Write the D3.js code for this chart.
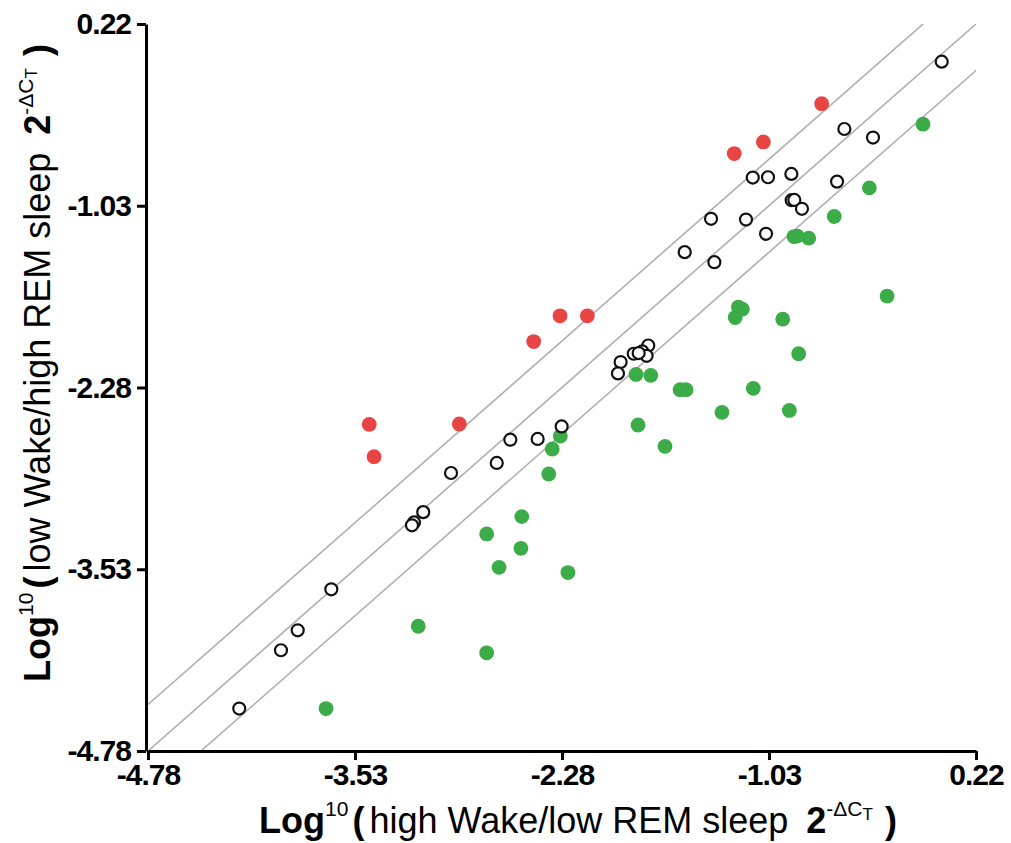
<!DOCTYPE html>
<html>
<head>
<meta charset="utf-8">
<script src="https://cdn.jsdelivr.net/npm/d3@7"></script>
<style>
    body { margin: 0; background: #fff; }
    .chart svg { display: block; font-family: Arial, "Liberation Sans", sans-serif; }
    .axis path, .axis line { stroke: #000; stroke-width: 3; }
    .axis text { font-size: 30px; font-weight: bold; fill: #000; letter-spacing: -1px; }
    .fold { stroke: #b0b0b0; stroke-width: 1.6; fill: none; }
</style>
</head>
<body>
<div class="chart"></div>
<script>
// tick values shared by both axes
var tickValues = [-4.78, -3.53, -2.28, -1.03, 0.22];
// parallel reference lines y = x + offset
var foldOffsets = [0.32, 0, -0.32];

// genes on the diagonal (open circles)
var unchangedX = [0.013, -0.575, -0.402, -1.128, -1.036, -0.895, -0.619, -0.893, -0.877, -0.831,
                  -1.380, -1.169, -1.048, -1.539, -1.360, -1.759, -1.795, -1.769, -1.847, -1.817,
                  -1.926, -1.942, -2.282, -2.427, -2.592, -2.674, -2.950, -3.118, -3.174, -3.186,
                  -3.673, -3.876, -3.977, -4.229];
var unchangedY = [-0.039, -0.502, -0.561, -0.836, -0.834, -0.811, -0.864, -0.992, -0.990, -1.051,
                  -1.120, -1.125, -1.223, -1.349, -1.418, -1.991, -2.032, -2.062, -2.048, -2.043,
                  -2.105, -2.183, -2.548, -2.634, -2.639, -2.799, -2.868, -3.137, -3.208, -3.228,
                  -3.668, -3.950, -4.087, -4.488];

// genes above the upper line (red)
var upX = [-0.712, -1.064, -1.240, -2.292, -2.127, -2.451, -2.900, -3.444, -3.415];
var upY = [-0.328, -0.591, -0.671, -1.787, -1.787, -1.964, -2.531, -2.534, -2.756];

// genes below the lower line (green)
var downX = [-0.100, -0.424, -0.636, -0.879, -0.859, -0.790, -0.317, -1.215, -1.191, -1.234,
             -0.947, -0.851, -1.833, -1.744, -1.567, -1.531, -1.125, -1.314, -0.907, -1.821,
             -1.658, -2.290, -2.339, -2.360, -2.523, -2.735, -2.528, -2.660, -2.244, -3.148,
             -2.735, -3.705];
var downY = [-0.469, -0.907, -1.104, -1.242, -1.239, -1.253, -1.651, -1.727, -1.741, -1.799,
             -1.810, -2.048, -2.190, -2.197, -2.295, -2.295, -2.286, -2.451, -2.438, -2.538,
             -2.685, -2.614, -2.703, -2.875, -3.168, -3.287, -3.386, -3.517, -3.553, -3.922,
             -4.105, -4.488];

(function(){

    var containerWidth = 1011;
    var containerHeight = 843;
    var margin = {top: 24, right: 35, bottom: 92, left: 148};
    var width = 976 - margin.left;
    var height = 751 - margin.top;
    var domain = [tickValues[0], tickValues[tickValues.length - 1]];

    var x = d3.scaleLinear().domain(domain).range([0, width]);
    var y = d3.scaleLinear().domain(domain).range([height, 0]);

    var svg = d3.select(".chart").append("svg")
        .attr("width", containerWidth)
        .attr("height", containerHeight);

    var g = svg.append("g")
        .attr("transform", "translate(" + margin.left + "," + margin.top + ")");

    // clip so the reference lines stop at the axes
    svg.append("defs").append("clipPath").attr("id", "plot-clip")
        .append("rect").attr("x", 0).attr("y", 0).attr("width", width).attr("height", height);

    g.append("g").attr("clip-path", "url(#plot-clip)")
        .selectAll("line").data(foldOffsets).enter()
        .append("line")
        .attr("class", "fold")
        .attr("x1", x(domain[0] - 1))
        .attr("y1", function(d){ return y(domain[0] - 1 + d); })
        .attr("x2", x(domain[1] + 1))
        .attr("y2", function(d){ return y(domain[1] + 1 + d); });

    function toPoints(xs, ys){
        return xs.map(function(v, i){ return {x: v, y: ys[i]}; });
    }

    // green, red, then open circles on top
    g.append("g").selectAll("circle").data(toPoints(downX, downY)).enter()
        .append("circle")
        .attr("cx", function(d){ return x(d.x); })
        .attr("cy", function(d){ return y(d.y); })
        .attr("r", 7.4)
        .attr("fill", "#3bac48");

    g.append("g").selectAll("circle").data(toPoints(upX, upY)).enter()
        .append("circle")
        .attr("cx", function(d){ return x(d.x); })
        .attr("cy", function(d){ return y(d.y); })
        .attr("r", 7.4)
        .attr("fill", "#e84444");

    g.append("g").selectAll("circle").data(toPoints(unchangedX, unchangedY)).enter()
        .append("circle")
        .attr("cx", function(d){ return x(d.x); })
        .attr("cy", function(d){ return y(d.y); })
        .attr("r", 6)
        .attr("fill", "#fff")
        .attr("stroke", "#111")
        .attr("stroke-width", 2.2);

    // Axes
    var fmt = function(d){ return d3.format(".2f")(d).replace("−", "-"); };

    g.append("g")
        .attr("class", "axis x-axis")
        .attr("transform", "translate(0," + height + ")")
        .call(d3.axisBottom(x).tickValues(tickValues).tickFormat(fmt).tickSizeInner(9).tickSizeOuter(0).tickPadding(4));

    g.append("g")
        .attr("class", "axis y-axis")
        .attr("transform", "translate(-2,0)")
        .call(d3.axisLeft(y).tickValues(tickValues).tickFormat(fmt).tickSizeInner(9).tickSizeOuter(0).tickPadding(6));

    g.selectAll(".axis text").attr("font-family", null).attr("font-size", null);

    // Axis titles
    function addTitle(sel, lead){
        sel.attr("font-size", 36).attr("fill", "#000").attr("text-anchor", "middle");
        sel.append("tspan").attr("font-weight", "bold").text("Log");
        sel.append("tspan").attr("font-size", 21).attr("dy", -17).text("10");
        sel.append("tspan").attr("font-weight", "bold").attr("dy", 17).attr("dx", 4).text("(");
        sel.append("tspan").attr("dx", 5).text(lead);
        sel.append("tspan").attr("font-weight", "bold").attr("dx", 18).text("2");
        sel.append("tspan").attr("font-size", 21).attr("dy", -17).text("-\u0394C");
        sel.append("tspan").attr("font-size", 17).attr("dy", 4).text("T");
        sel.append("tspan").attr("font-weight", "bold").attr("dy", 13).attr("dx", 12).text(")");
    }

    svg.append("text")
        .attr("x", 578)
        .attr("y", 833)
        .call(addTitle, "high Wake/low REM sleep");

    svg.append("text")
        .attr("transform", "translate(50,363) rotate(-90)")
        .call(addTitle, "low Wake/high REM sleep");

}());
</script>
</body>
</html>
